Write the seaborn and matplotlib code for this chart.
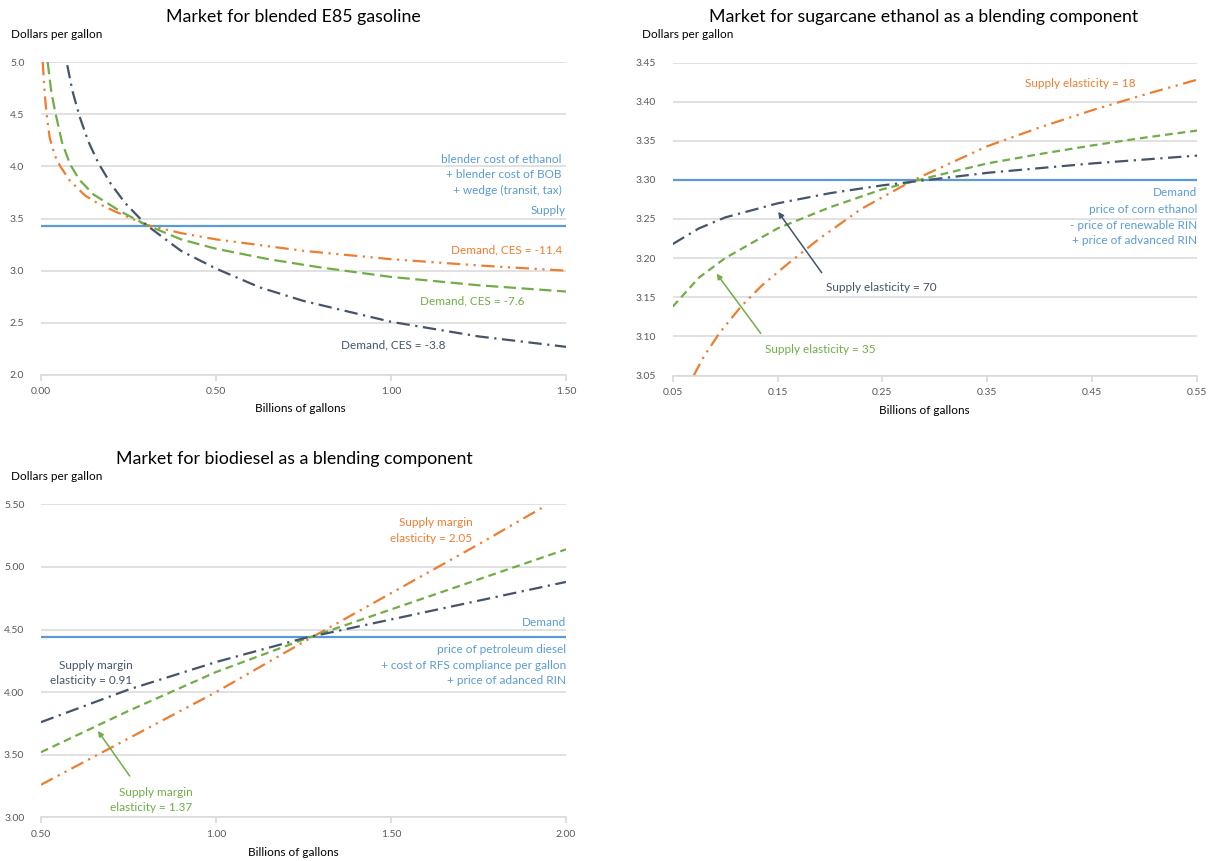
import matplotlib
matplotlib.use("Agg")
import matplotlib.pyplot as plt
import seaborn as sns

# colours (Excel office palette)
BLUE = "#5B9BD5"
ORANGE = "#ED7D31"
GREEN = "#70AD47"
NAVY = "#44546A"
GRID = "#D9D9D9"
TICK = "#595959"

# ---- panel 1: blended E85 gasoline (demand curves, flat supply)
e85_q_ces114 = [0.005, 0.01, 0.016, 0.025, 0.04, 0.055, 0.083, 0.126, 0.16, 0.21,
                0.30, 0.40, 0.50, 0.75, 1.00, 1.25, 1.50]
e85_p_ces114 = [5.00, 4.72, 4.50, 4.27, 4.10, 4.00, 3.86, 3.72, 3.65, 3.57,
                3.44, 3.36, 3.30, 3.19, 3.11, 3.05, 3.00]
e85_q_ces76 = [0.019, 0.03, 0.042, 0.06, 0.083, 0.11, 0.15, 0.226, 0.30, 0.40,
               0.50, 0.65, 0.80, 1.00, 1.25, 1.50]
e85_p_ces76 = [5.00, 4.70, 4.50, 4.23, 4.02, 3.87, 3.73, 3.57, 3.44, 3.30,
               3.21, 3.11, 3.03, 2.94, 2.86, 2.80]
e85_q_ces38 = [0.075, 0.09, 0.111, 0.135, 0.164, 0.20, 0.24, 0.30, 0.40, 0.50,
               0.625, 0.75, 1.00, 1.25, 1.50]
e85_p_ces38 = [4.97, 4.72, 4.47, 4.24, 4.03, 3.83, 3.65, 3.44, 3.19, 3.02,
               2.84, 2.71, 2.51, 2.37, 2.27]
e85_supply = 3.43
e85_xticks = [0.0, 0.5, 1.0, 1.5]
e85_xlabels = ["0.00", "0.50", "1.00", "1.50"]
e85_yticks = [2.0, 2.5, 3.0, 3.5, 4.0, 4.5, 5.0]
e85_ylabels = ["2.0", "2.5", "3.0", "3.5", "4.0", "4.5", "5.0"]

# ---- panel 2: sugarcane ethanol (supply curves, flat demand)
sc_q_e18 = [0.07, 0.08, 0.095, 0.115, 0.135, 0.16, 0.19, 0.23, 0.28, 0.35,
            0.40, 0.45, 0.50, 0.55]
sc_p_e18 = [3.050, 3.075, 3.105, 3.138, 3.165, 3.193, 3.225, 3.263, 3.300, 3.343,
            3.367, 3.389, 3.409, 3.428]
sc_q_e35 = [0.05, 0.075, 0.10, 0.15, 0.20, 0.25, 0.30, 0.35, 0.40, 0.45, 0.50, 0.55]
sc_p_e35 = [3.138, 3.175, 3.200, 3.238, 3.265, 3.288, 3.305, 3.321, 3.333, 3.344,
            3.354, 3.363]
sc_q_e70 = [0.05, 0.075, 0.10, 0.15, 0.20, 0.25, 0.30, 0.35, 0.40, 0.45, 0.50, 0.55]
sc_p_e70 = [3.218, 3.238, 3.252, 3.270, 3.283, 3.293, 3.301, 3.309, 3.315, 3.321,
            3.326, 3.331]
sc_demand = 3.30
sc_xticks = [0.05, 0.15, 0.25, 0.35, 0.45, 0.55]
sc_xlabels = ["0.05", "0.15", "0.25", "0.35", "0.45", "0.55"]
sc_yticks = [3.05, 3.10, 3.15, 3.20, 3.25, 3.30, 3.35, 3.40, 3.45]
sc_ylabels = ["3.05", "3.10", "3.15", "3.20", "3.25", "3.30", "3.35", "3.40", "3.45"]

# ---- panel 3: biodiesel (supply curves, flat demand)
bd_q_e205 = [0.50, 0.75, 1.00, 1.25, 1.50, 1.75, 1.93]
bd_p_e205 = [3.26, 3.63, 4.00, 4.40, 4.79, 5.18, 5.47]
bd_q_e137 = [0.50, 0.75, 1.00, 1.25, 1.50, 1.75, 2.00]
bd_p_e137 = [3.52, 3.85, 4.16, 4.42, 4.66, 4.90, 5.14]
bd_q_e091 = [0.50, 0.75, 1.00, 1.25, 1.50, 1.75, 2.00]
bd_p_e091 = [3.76, 4.02, 4.24, 4.43, 4.58, 4.73, 4.88]
bd_demand = 4.44
bd_xticks = [0.5, 1.0, 1.5, 2.0]
bd_xlabels = ["0.50", "1.00", "1.50", "2.00"]
bd_yticks = [3.0, 3.5, 4.0, 4.5, 5.0, 5.5]
bd_ylabels = ["3.00", "3.50", "4.00", "4.50", "5.00", "5.50"]

sns.set_theme(style="white")
plt.rcParams["font.family"] = ["Lato", "DejaVu Sans"]

W, H = 1217, 861
fig = plt.figure(figsize=(W / 100, H / 100), dpi=100)


def px_axes(x0, y0, x1, y1):
    return fig.add_axes([x0 / W, 1 - y1 / H, (x1 - x0) / W, (y1 - y0) / H])


def curve(ax, q, p, color, dashes, lw=1.6):
    sns.lineplot(x=q, y=p, color=color, linewidth=lw, errorbar=None, ax=ax)
    ax.lines[-1].set_dashes(dashes)


def style(ax, xlim, ylim, xt, xl, yt, yl):
    ax.set_xlim(xlim)
    ax.set_ylim(ylim)
    ax.set_xticks(xt)
    ax.set_xticklabels(xl)
    ax.set_yticks(yt)
    ax.set_yticklabels(yl)
    ax.grid(axis="y", color=GRID, linewidth=1.1)
    ax.grid(axis="x", visible=False)
    for s in ["top", "right", "left"]:
        ax.spines[s].set_visible(False)
    ax.spines["bottom"].set_color(GRID)
    ax.spines["bottom"].set_linewidth(1.1)
    ax.tick_params(axis="x", bottom=True, length=4, color=GRID, labelsize=7.5,
                   labelcolor=TICK, pad=5)
    ax.tick_params(axis="y", left=False, labelsize=7.5, labelcolor=TICK, pad=6)
    ax.set_xlabel("")
    ax.set_ylabel("")
    ax.set_axisbelow(True)


DDOT = (6, 2.5, 1, 2.5, 1, 2.5)
DASH_LONG = (5.5, 2.5)
DASH_SHORT = (3.5, 2.2)
DDASH = (6, 2.5, 1, 2.5)

# ---------------- panel 1
ax1 = px_axes(41, 62, 566, 375)
ax1.axhline(e85_supply, color=BLUE, lw=1.6)
curve(ax1, e85_q_ces114, e85_p_ces114, ORANGE, DDOT)
curve(ax1, e85_q_ces76, e85_p_ces76, GREEN, DASH_LONG)
curve(ax1, e85_q_ces38, e85_p_ces38, NAVY, DDASH)
style(ax1, (0, 1.5), (2.0, 5.0), e85_xticks, e85_xlabels, e85_yticks, e85_ylabels)
tk = dict(fontsize=8.5, ha="right", va="center")
ax1.text(1.488, 4.063, "blender cost of ethanol", color=BLUE, **tk)
ax1.text(1.488, 3.92, "+ blender cost of BOB", color=BLUE, **tk)
ax1.text(1.488, 3.766, "+ wedge (transit, tax)", color=BLUE, **tk)
ax1.text(1.50, 3.58, "Supply", color=BLUE, **tk)
ax1.text(1.488, 3.20, "Demand, CES = -11.4", color=ORANGE, **tk)
ax1.text(1.381, 2.71, "Demand, CES = -7.6", color=GREEN, **tk)
ax1.text(1.157, 2.29, "Demand, CES = -3.8", color=NAVY, **tk)

# ---------------- panel 2
ax2 = px_axes(672.7, 62.5, 1197, 375.5)
ax2.axhline(sc_demand, color=BLUE, lw=1.6)
curve(ax2, sc_q_e18, sc_p_e18, ORANGE, DDOT)
curve(ax2, sc_q_e35, sc_p_e35, GREEN, DASH_SHORT)
curve(ax2, sc_q_e70, sc_p_e70, NAVY, DDASH)
style(ax2, (0.05, 0.55), (3.05, 3.45), sc_xticks, sc_xlabels, sc_yticks, sc_ylabels)
ax2.text(0.491, 3.423, "Supply elasticity = 18", color=ORANGE, **tk)
ax2.text(0.55, 3.284, "Demand", color=BLUE, **tk)
ax2.text(0.55, 3.262, "price of corn ethanol", color=BLUE, **tk)
ax2.text(0.55, 3.242, "- price of renewable RIN", color=BLUE, **tk)
ax2.text(0.55, 3.222, "+ price of advanced RIN", color=BLUE, **tk)
ax2.text(0.196, 3.163, "Supply elasticity = 70", color=NAVY, fontsize=8.5,
         ha="left", va="center")
ax2.text(0.138, 3.083, "Supply elasticity = 35", color=GREEN, fontsize=8.5,
         ha="left", va="center")
ax2.annotate("", xy=(0.149, 3.262), xytext=(0.1936, 3.1785),
             arrowprops=dict(arrowstyle="-|>", color=NAVY, lw=1.1, mutation_scale=8))
ax2.annotate("", xy=(0.0903, 3.183), xytext=(0.1355, 3.101),
             arrowprops=dict(arrowstyle="-|>", color=GREEN, lw=1.1, mutation_scale=8))

# ---------------- panel 3
ax3 = px_axes(41, 504.3, 566, 817.3)
ax3.axhline(bd_demand, color=BLUE, lw=1.6)
curve(ax3, bd_q_e205, bd_p_e205, ORANGE, DDOT)
curve(ax3, bd_q_e137, bd_p_e137, GREEN, DASH_SHORT)
curve(ax3, bd_q_e091, bd_p_e091, NAVY, DDASH)
style(ax3, (0.5, 2.0), (3.0, 5.5), bd_xticks, bd_xlabels, bd_yticks, bd_ylabels)
ax3.text(1.733, 5.356, "Supply margin", color=ORANGE, **tk)
ax3.text(1.733, 5.23, "elasticity = 2.05", color=ORANGE, **tk)
ax3.text(0.762, 4.209, "Supply margin", color=NAVY, **tk)
ax3.text(0.762, 4.091, "elasticity = 0.91", color=NAVY, **tk)
ax3.text(0.933, 3.20, "Supply margin", color=GREEN, **tk)
ax3.text(0.933, 3.08, "elasticity = 1.37", color=GREEN, **tk)
ax3.text(2.0, 4.552, "Demand", color=BLUE, **tk)
ax3.text(2.0, 4.344, "price of petroleum diesel", color=BLUE, **tk)
ax3.text(2.0, 4.216, "+ cost of RFS compliance per gallon", color=BLUE, **tk)
ax3.text(2.0, 4.096, "+ price of adanced RIN", color=BLUE, **tk)
ax3.annotate("", xy=(0.658, 3.708), xytext=(0.758, 3.312),
             arrowprops=dict(arrowstyle="-|>", color=GREEN, lw=1.1, mutation_scale=8))

# ---------------- titles and axis captions
def ftext(x, y, s, **kw):
    fig.text(x / W, 1 - y / H, s, **kw)


ftext(293.5, 17, "Market for blended E85 gasoline", fontsize=12.8, ha="center", va="center", color="black")
ftext(924, 17, "Market for sugarcane ethanol as a blending component", fontsize=12.8, ha="center", va="center", color="black")
ftext(294, 459, "Market for biodiesel as a blending component", fontsize=12.8, ha="center", va="center", color="black")
for xx, yy in [(10.7, 35), (641.7, 35), (10.7, 476.7)]:
    ftext(xx, yy, "Dollars per gallon", fontsize=8.5, ha="left", va="center", color="black")
for xx, yy in [(300, 409), (924, 410), (293.7, 852.3)]:
    ftext(xx, yy, "Billions of gallons", fontsize=8.5, ha="center", va="center", color="black")

fig.savefig("out.png", dpi=100)
